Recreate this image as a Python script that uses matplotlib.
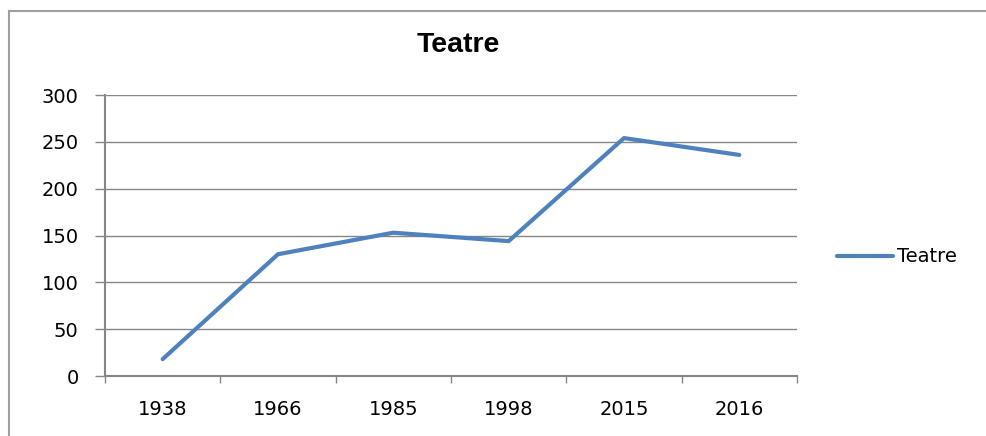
import matplotlib.pyplot as plt
from matplotlib.lines import Line2D

# Data
years = ['1938', '1966', '1985', '1998', '2015', '2016']
teatre = [18, 130, 153, 144, 254, 236]
y_ticks = [0, 50, 100, 150, 200, 250, 300]

grey = '#868686'
blue = '#4F81BD'

fig = plt.figure(figsize=(9.86, 4.36), dpi=100)
ax = fig.add_axes([105 / 986, 60 / 436, 692 / 986, 281 / 436])

x = list(range(len(years)))
ax.plot(x, teatre, color=blue, lw=3.0, label='Teatre', solid_capstyle='round')

ax.set_xlim(-0.5, len(years) - 0.5)
ax.set_ylim(0, 300)
ax.set_yticks(y_ticks)
ax.set_xticks(x)
ax.set_xticklabels(years)
ax.set_xticks([i - 0.5 for i in range(len(years) + 1)], minor=True)

ax.yaxis.grid(True, color=grey, lw=1)
ax.set_axisbelow(True)
for s in ['top', 'right']:
    ax.spines[s].set_visible(False)
for s in ['left', 'bottom']:
    ax.spines[s].set_color(grey)
    ax.spines[s].set_linewidth(1.5)

ax.tick_params(axis='x', which='major', length=0, pad=17, labelsize=14)
ax.tick_params(axis='x', which='minor', length=5, color=grey, width=1)
ax.tick_params(axis='y', length=7, color=grey, width=1, pad=12, labelsize=14)

fig.text(458 / 986, 1 - 45 / 436, 'Teatre', ha='center', va='center',
         fontsize=20.5, fontweight='bold', family='Liberation Sans')

ax.legend(loc='center left', bbox_to_anchor=(819 / 986, 1 - 257 / 436),
          bbox_transform=fig.transFigure, frameon=False, fontsize=14,
          handlelength=2.9, handletextpad=0.2)

# outer chart border (only top and left visible)
fig.add_artist(Line2D([8.5 / 986, 8.5 / 986], [0, 1 - 11 / 436], color='#A0A0A0', lw=1.5))
fig.add_artist(Line2D([8.5 / 986, 1], [1 - 11 / 436, 1 - 11 / 436], color='#A0A0A0', lw=1.5))

fig.savefig('out.png', dpi=100)
